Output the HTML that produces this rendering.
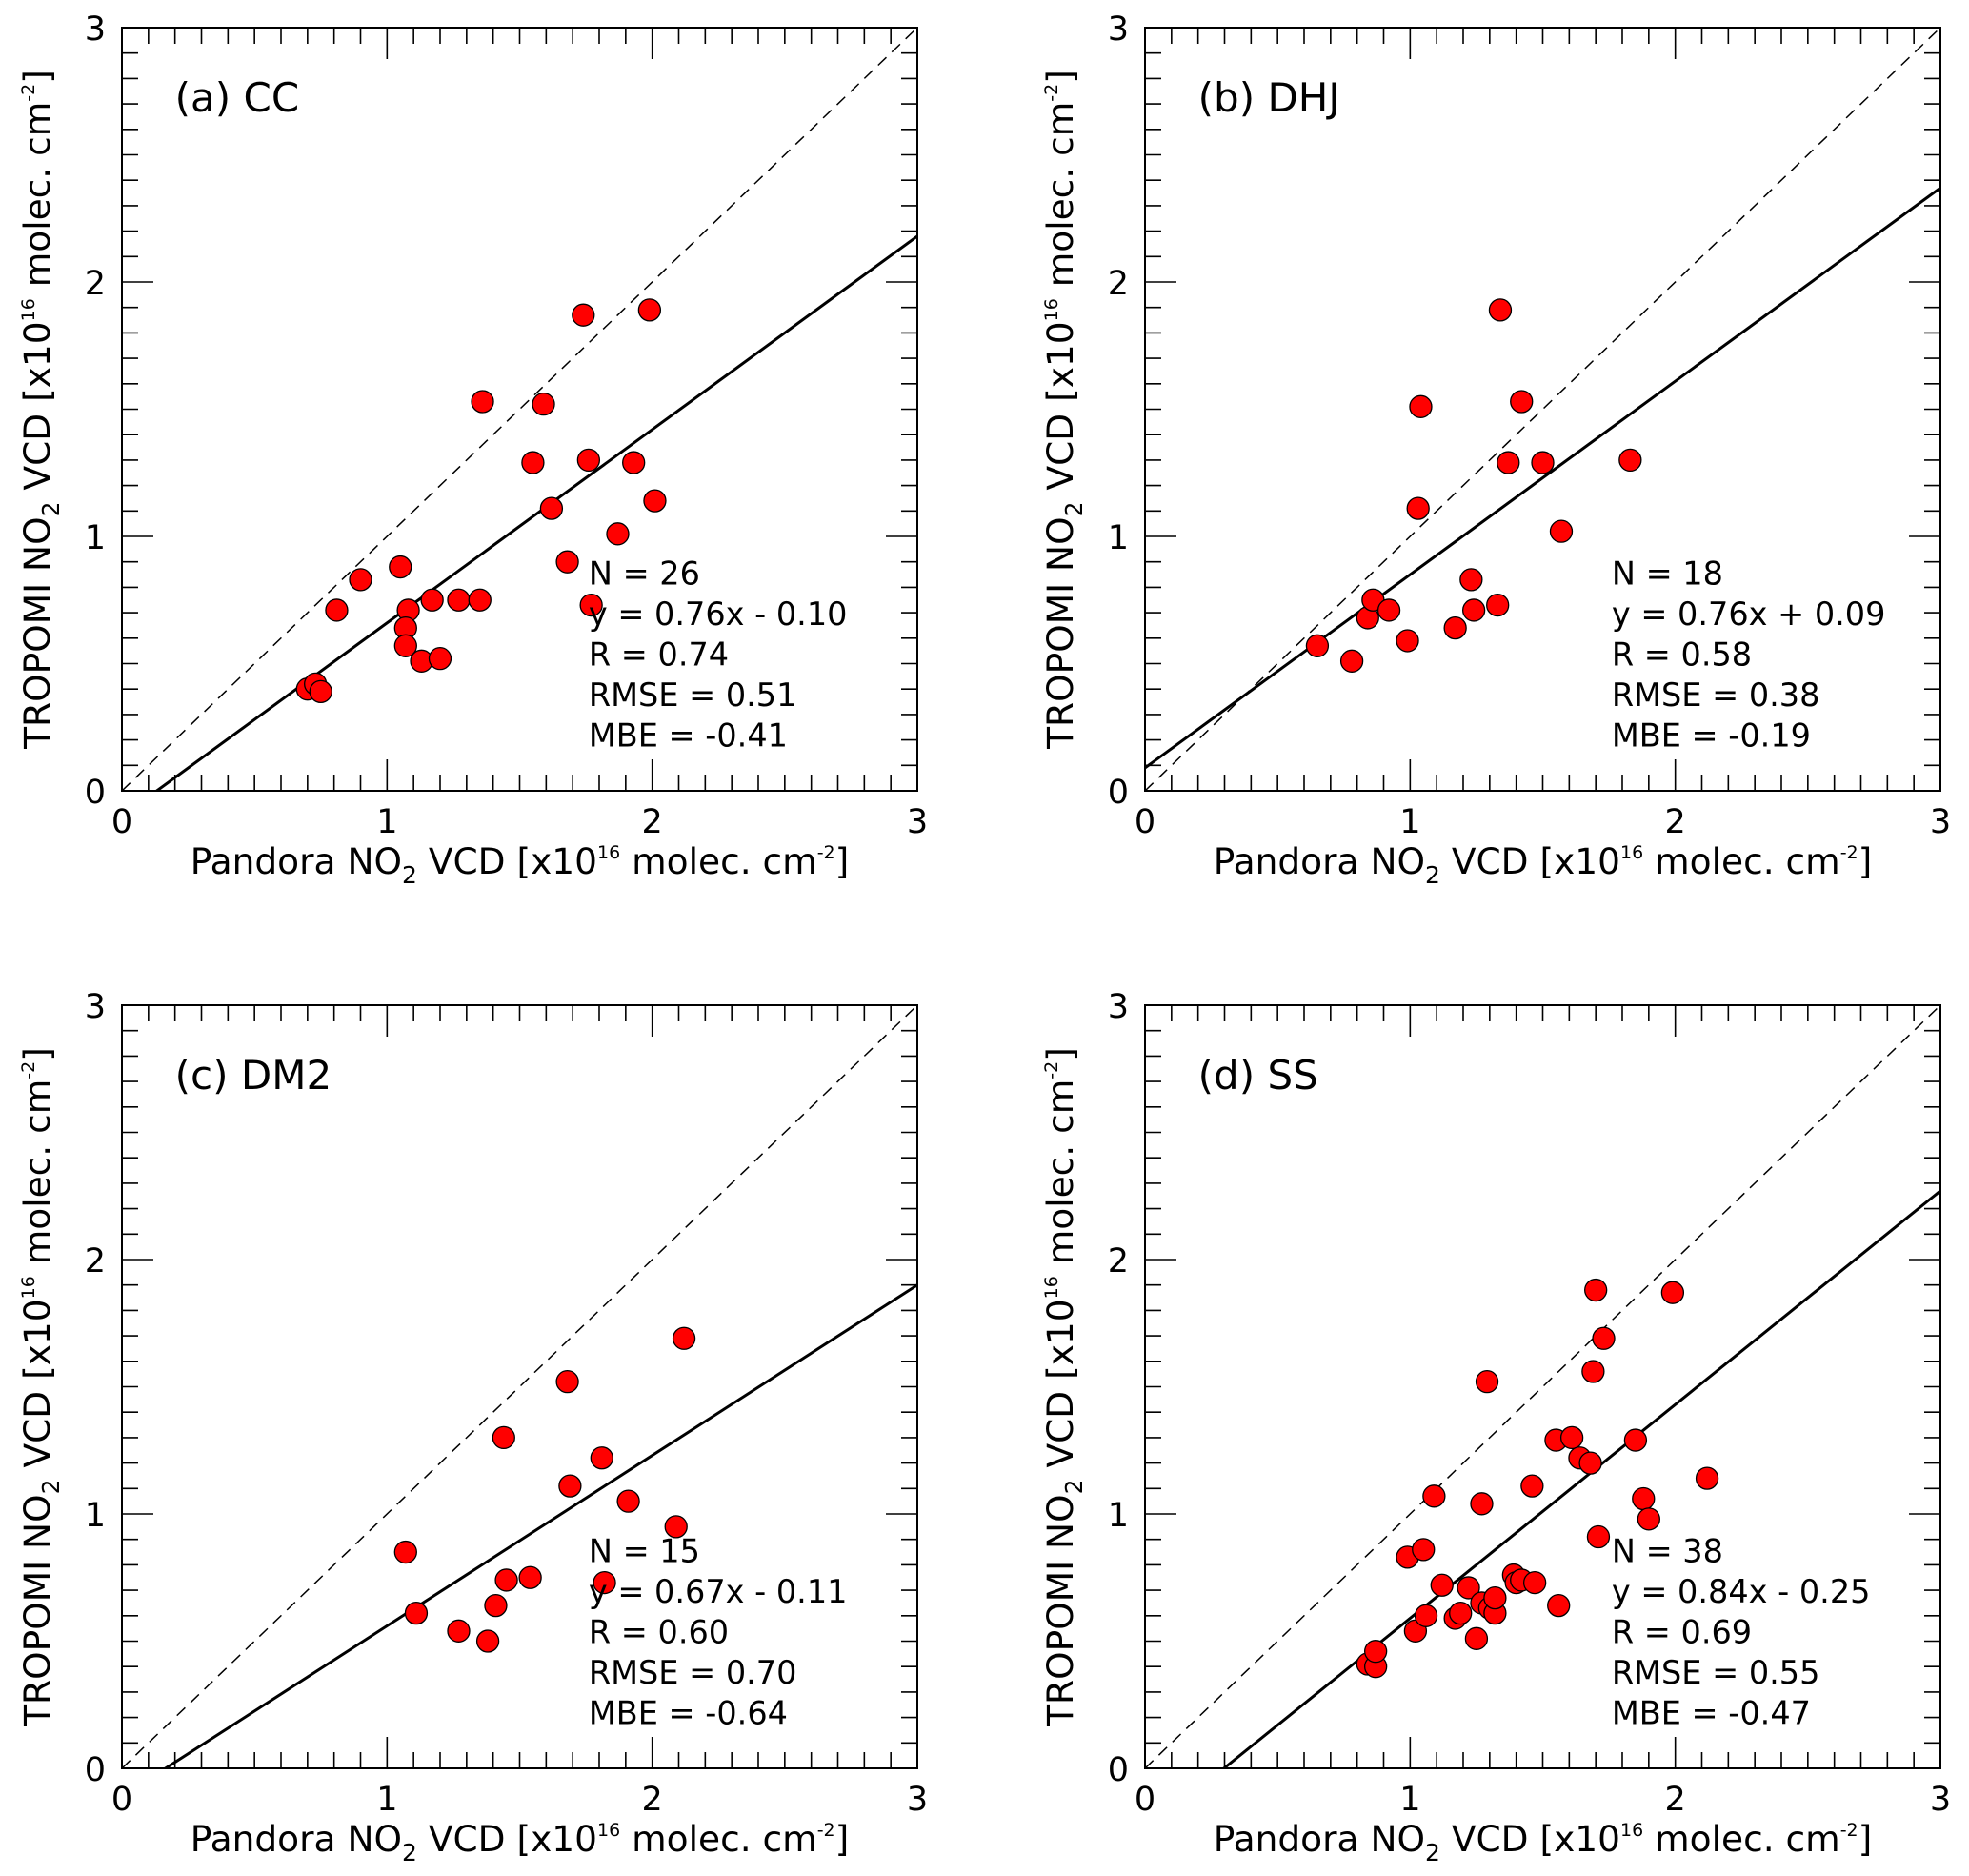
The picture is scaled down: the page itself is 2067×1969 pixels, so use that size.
<!DOCTYPE html>
<html><head><meta charset="utf-8"><style>
html,body{margin:0;padding:0;background:#fff;}
svg{display:block;font-family:"DejaVu Sans","Liberation Sans",sans-serif;}
</style></head><body>
<svg id="fig" width="2067" height="1969" viewBox="0 0 2067 1969" xmlns="http://www.w3.org/2000/svg"></svg>
<script>
const ccX=[0.70,0.73,0.75,0.81,0.90,1.05,1.08,1.07,1.07,1.13,1.20,1.17,1.27,1.35,1.36,1.55,1.59,1.74,1.76,1.62,1.68,1.77,1.87,1.93,1.99,2.01];
const ccY=[0.40,0.42,0.39,0.71,0.83,0.88,0.71,0.64,0.57,0.51,0.52,0.75,0.75,0.75,1.53,1.29,1.52,1.87,1.30,1.11,0.90,0.73,1.01,1.29,1.89,1.14];
const dhjX=[0.65,0.78,0.84,0.86,0.92,0.99,1.03,1.04,1.17,1.23,1.24,1.33,1.34,1.37,1.42,1.50,1.57,1.83];
const dhjY=[0.57,0.51,0.68,0.75,0.71,0.59,1.11,1.51,0.64,0.83,0.71,0.73,1.89,1.29,1.53,1.29,1.02,1.30];
const dm2X=[1.07,1.11,1.27,1.38,1.41,1.45,1.44,1.54,1.68,1.69,1.81,1.82,1.91,2.09,2.12];
const dm2Y=[0.85,0.61,0.54,0.50,0.64,0.74,1.30,0.75,1.52,1.11,1.22,0.73,1.05,0.95,1.69];
const ssX=[0.84,0.87,0.87,0.99,1.02,1.05,1.06,1.09,1.12,1.17,1.19,1.22,1.25,1.27,1.27,1.29,1.30,1.32,1.32,1.39,1.40,1.42,1.47,1.46,1.55,1.56,1.61,1.64,1.68,1.69,1.70,1.73,1.71,1.85,1.88,1.90,1.99,2.12];
const ssY=[0.41,0.40,0.46,0.83,0.54,0.86,0.60,1.07,0.72,0.59,0.61,0.71,0.51,0.65,1.04,1.52,0.63,0.61,0.67,0.76,0.73,0.74,0.73,1.11,1.29,0.64,1.30,1.22,1.20,1.56,1.88,1.69,0.91,1.29,1.06,0.98,1.87,1.14];
const slopes=[0.76,0.76,0.67,0.84];
const intercepts=[-0.10,0.09,-0.11,-0.25];
const labels=["(a) CC","(b) DHJ","(c) DM2","(d) SS"];
const statN=["26","18","15","38"];
const statEq=["y = 0.76x - 0.10","y = 0.76x + 0.09","y = 0.67x - 0.11","y = 0.84x - 0.25"];
const statR=["0.74","0.58","0.60","0.69"];
const statRMSE=["0.51","0.38","0.70","0.55"];
const statMBE=["-0.41","-0.19","-0.64","-0.47"];
const tickLabels=["0","1","2","3"];
const xsets=[ccX,dhjX,dm2X,ssX], ysets=[ccY,dhjY,dm2Y,ssY];
const boxes=[[128,29],[1202,29],[128,1055],[1202,1055]];
const W=835,H=801;
const NS="http://www.w3.org/2000/svg";
const svg=document.getElementById('fig');
function mk(tag,attrs,parent){const e=document.createElementNS(NS,tag);for(const k in attrs)e.setAttribute(k,attrs[k]);(parent||svg).appendChild(e);return e;}
const titleTail='<tspan dy="-10"> VCD [x10</tspan><tspan font-size="19" dy="-16">16</tspan><tspan dy="16"> molec. cm</tspan><tspan font-size="19" dy="-16">-2</tspan><tspan dy="16">]</tspan>';
for(let p=0;p<4;p++){
  const [L,T]=boxes[p];
  const sx=v=>L+v/3*W, sy=v=>T+H-v/3*H;
  const g=mk('g',{});
  
  
  const cid='clip'+p;
  const cp=mk('clipPath',{id:cid},g);mk('rect',{x:L,y:T,width:W,height:H},cp);
  for(let i=0;i<=30;i++){
    const v=i/10, major=i%10===0, len=major?33:17;
    const x=sx(v), y=sy(v);
    mk('line',{x1:x,y1:T+H,x2:x,y2:T+H-len,stroke:'#000','stroke-width':1.6},g);
    mk('line',{x1:x,y1:T,x2:x,y2:T+len,stroke:'#000','stroke-width':1.6},g);
    mk('line',{x1:L,y1:y,x2:L+len,y2:y,stroke:'#000','stroke-width':1.6},g);
    mk('line',{x1:L+W,y1:y,x2:L+W-len,y2:y,stroke:'#000','stroke-width':1.6},g);
  }
  for(let i=0;i<tickLabels.length;i++){
    const tx=mk('text',{x:sx(i),y:T+H+44,'text-anchor':'middle','font-size':35},g);tx.textContent=tickLabels[i];
    
    
    const ty=mk('text',{x:L-17,y:sy(i)+13,'text-anchor':'end','font-size':35},g);ty.textContent=tickLabels[i];
    
    
  }
  const d=mk('line',{x1:sx(0),y1:sy(0),x2:sx(3),y2:sy(3),stroke:'#000','stroke-width':1.5,'stroke-dasharray':'12,8','clip-path':'url(#'+cid+')'},g);
  
  
  const m=slopes[p],b=intercepts[p];
  const r=mk('line',{x1:sx(0),y1:sy(b),x2:sx(3),y2:sy(m*3+b),stroke:'#000','stroke-width':3,'clip-path':'url(#'+cid+')'},g);
  
  
  const xs=xsets[p],ys=ysets[p];
  for(let i=0;i<xs.length;i++){
    const c=mk('circle',{cx:sx(xs[i]),cy:sy(ys[i]),r:11.5,fill:'#ff0000',stroke:'#000','stroke-width':1.3},g);
    
    
  }
  const f=mk('rect',{x:L,y:T,width:W,height:H,fill:'none',stroke:'#000','stroke-width':2},g);
  
  
  const pl=mk('text',{x:sx(0.2),y:sy(2.67),'font-size':42},g);pl.textContent=labels[p];
  
  
  const lines=["N = "+statN[p],statEq[p],"R = "+statR[p],"RMSE = "+statRMSE[p],"MBE = "+statMBE[p]];
  for(let i=0;i<lines.length;i++){
    const t=mk('text',{x:sx(1.76),y:sy(0.81)+i*42.5,'font-size':33.5},g);t.textContent=lines[i];
    
    
  }
  const xt=mk('text',{x:L+W/2,y:T+H+87,'text-anchor':'middle','font-size':37.5},g);
  
  
  xt.innerHTML='Pandora NO<tspan font-size="25" dy="10">2</tspan>'+titleTail;
  const yt=mk('text',{x:0,y:0,'text-anchor':'middle','font-size':37.5,transform:'translate('+(L-76)+','+(T+H/2)+') rotate(-90)'},g);
  
  
  yt.innerHTML='TROPOMI NO<tspan font-size="25" dy="10">2</tspan>'+titleTail;
}
</script>
</body></html>
